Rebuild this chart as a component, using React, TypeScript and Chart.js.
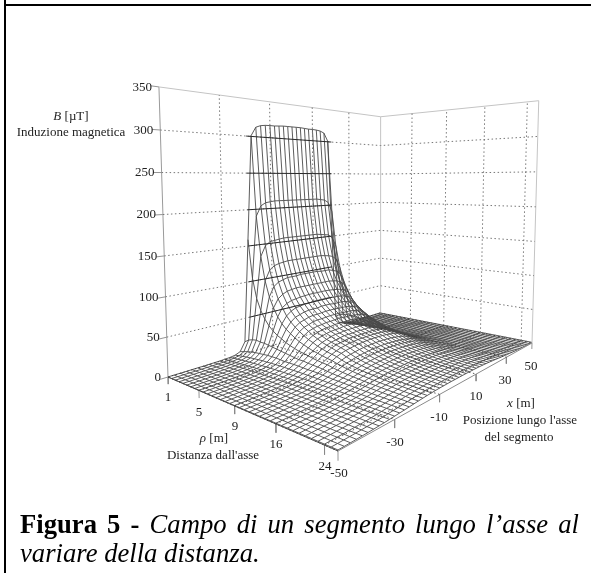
import React, { useEffect, useRef } from "react";
import { Chart, registerables } from "chart.js";

Chart.register(...registerables);

// Distance from the axis (rows of the mesh), metres
const rhoValues = [1, 1.5, 2, 2.5, 3, 3.5, 4, 4.5, 5, 5.5, 6, 6.5, 7, 7.5, 8, 8.5, 9, 9.5, 10, 11, 12, 13, 14, 15, 16, 17, 18, 19, 20, 21, 22, 23, 24, 25, 26];
// Position along the segment (the surface is mirror-symmetric around x = 0): 0, 2, ... 50
const xHalf = [0, 2, 4, 6, 8, 10, 12, 14, 16, 18, 20, 22, 24, 26, 28, 30, 32, 34, 36, 38, 40, 42, 44, 46, 48, 50];

const rho01 = [318, 318, 318, 317.5, 317, 317, 316.7, 315.7, 313, 301, 159, 17, 5, 2.2, 1.2, 0.8, 0.5, 0.4, 0.3, 0.2, 0.2, 0.2, 0.1, 0.1, 0.1, 0.1];
const rho02 = [211, 211, 211, 211, 211, 211, 210, 209, 205, 191, 106, 21, 6.7, 3.1, 1.7, 1.1, 0.8, 0.6, 0.4, 0.35, 0.3, 0.2, 0.2, 0.15, 0.1, 0.1];
const rho03 = [158, 158, 158, 158, 158, 157, 156, 155, 150, 136, 79, 23, 8.4, 4, 2.3, 1.5, 1.1, 0.8, 0.6, 0.4, 0.35, 0.3, 0.25, 0.2, 0.15, 0.1];
const rho04 = [126, 126, 126, 126, 126, 125, 124, 122, 117, 103, 63.5, 24, 9.6, 4.8, 2.8, 1.8, 1.3, 0.9, 0.7, 0.5, 0.4, 0.3, 0.3, 0.2, 0.2, 0.15];
const rho05 = [105, 105, 105, 104, 104, 104, 102, 100, 95, 82, 53, 23, 10.5, 5.5, 3.3, 2.1, 1.5, 1.1, 0.85, 0.65, 0.5, 0.4, 0.35, 0.3, 0.2, 0.2];
const rho06 = [89, 89, 89, 89, 89, 88, 87, 84, 79, 68, 45, 23, 11, 6, 3.7, 2.4, 1.7, 1.2, 0.95, 0.7, 0.6, 0.5, 0.4, 0.3, 0.25, 0.2];
const rho07 = [78, 78, 78, 77.5, 77, 76, 75, 72.5, 68, 57, 39.5, 22, 11.5, 6.5, 4, 2.7, 1.9, 1.4, 1.1, 0.85, 0.65, 0.5, 0.4, 0.35, 0.3, 0.25];
const rho08 = [69, 69, 69, 68, 68, 67, 66, 63, 58, 49, 35, 21, 12, 7, 4.3, 3, 2.1, 1.6, 1.2, 0.95, 0.7, 0.6, 0.5, 0.4, 0.35, 0.3];
const rho09 = [62, 62, 61, 61, 61, 60, 58, 56, 51, 43, 32, 20, 12, 7, 4.6, 3.2, 2.3, 1.7, 1.3, 1, 0.8, 0.65, 0.55, 0.45, 0.4, 0.3];
const rho10 = [56, 56, 55.5, 55, 55, 54, 52, 50, 45.5, 38.5, 28.6, 19, 12, 7.4, 4.9, 3.4, 2.4, 1.8, 1.4, 1.1, 0.9, 0.7, 0.6, 0.5, 0.4, 0.35];
const rho11 = [51, 51, 50.5, 50, 50, 49, 47, 45, 41, 34.5, 26, 18, 11.5, 7.5, 5, 3.6, 2.6, 1.9, 1.5, 1.2, 0.9, 0.8, 0.6, 0.5, 0.4, 0.35];
const rho12 = [47, 46.5, 46, 46, 45, 44.5, 43, 41, 37, 31, 24, 17, 11, 7.6, 5.2, 3.7, 2.7, 2.1, 1.6, 1.2, 1, 0.8, 0.7, 0.5, 0.45, 0.4];
const rho13 = [43, 43, 43, 42, 42, 41, 39, 37, 33.5, 28.5, 22, 16, 11, 7.6, 5.3, 3.9, 2.8, 2.2, 1.7, 1.3, 1, 0.85, 0.7, 0.6, 0.5, 0.4];
const rho14 = [40, 40, 39, 39, 38.5, 37.5, 36, 34, 31, 26, 21, 15, 11, 7.6, 5.4, 4, 2.9, 2.3, 1.8, 1.4, 1.1, 0.9, 0.75, 0.6, 0.5, 0.45];
const rho15 = [37, 37, 37, 36, 36, 35, 33, 31, 28, 24, 19.5, 15, 10.7, 7.6, 5.5, 4, 3.1, 2.4, 1.9, 1.5, 1.2, 1, 0.8, 0.65, 0.55, 0.5];
const rho16 = [34.4, 34, 34, 34, 33, 32, 31, 29, 26, 22.5, 18, 14, 10.4, 7.6, 5.6, 4.2, 3.1, 2.4, 1.9, 1.5, 1.2, 1, 0.85, 0.7, 0.6, 0.5];
const rho17 = [32, 32, 32, 32, 31, 30, 29, 27, 24, 21, 17, 13.5, 10, 7.5, 5.6, 4.2, 3.2, 2.5, 2, 1.6, 1.3, 1.1, 0.9, 0.75, 0.6, 0.55];
const rho18 = [30, 30, 30, 29.5, 29, 28, 27, 25, 22.6, 19.5, 16, 13, 10, 7.4, 5.6, 4.3, 3.3, 2.6, 2, 1.6, 1.35, 1.1, 0.95, 0.8, 0.65, 0.6];
const rho19 = [28.4, 28.2, 28, 27.6, 27, 26, 25, 23.5, 21.3, 18.4, 15.4, 12.4, 9.7, 7.3, 5.6, 4.2, 3.3, 2.5, 2.1, 1.7, 1.35, 1.1, 0.95, 0.8, 0.65, 0.6];
const rho20 = [25.3, 25.2, 24.9, 24.5, 24, 23, 22, 20.7, 18.8, 16.5, 13.9, 11.3, 9.1, 7.1, 5.6, 4.3, 3.4, 2.7, 2.2, 1.7, 1.45, 1.2, 1, 0.85, 0.7, 0.6];
const rho21 = [22.7, 22.6, 22.3, 21.9, 21.3, 20.6, 19.6, 18.3, 16.8, 14.9, 12.6, 10.5, 8.6, 6.9, 5.5, 4.3, 3.4, 2.8, 2.3, 1.8, 1.5, 1.25, 1.05, 0.9, 0.75, 0.65];
const rho22 = [20.5, 20.4, 20.1, 19.8, 19.3, 18.6, 17.7, 16.6, 15.2, 13.5, 11.7, 9.8, 8.1, 6.6, 5.4, 4.3, 3.5, 2.8, 2.3, 1.9, 1.55, 1.3, 1.1, 0.95, 0.8, 0.7];
const rho23 = [18.6, 18.5, 18.3, 18, 17.5, 16.9, 16.1, 15.1, 13.9, 12.5, 10.9, 9.3, 7.8, 6.4, 5.3, 4.3, 3.5, 2.9, 2.4, 2, 1.6, 1.4, 1.15, 1, 0.85, 0.75];
const rho24 = [17, 16.9, 16.7, 16.4, 16, 15.5, 14.8, 13.9, 12.8, 11.5, 10.2, 8.8, 7.5, 6.2, 5.2, 4.3, 3.5, 2.9, 2.4, 2, 1.7, 1.4, 1.2, 1.05, 0.9, 0.8];
const rho25 = [15.5, 15.4, 15.3, 15, 14.7, 14.2, 13.6, 12.8, 11.9, 10.8, 9.6, 8.3, 7.1, 6, 5, 4.2, 3.5, 2.9, 2.4, 2, 1.7, 1.45, 1.25, 1.1, 0.95, 0.8];
const rho26 = [14.3, 14.2, 14, 13.8, 13.5, 13.1, 12.6, 11.9, 11.1, 10.1, 9, 7.9, 6.8, 5.8, 4.9, 4.1, 3.5, 2.9, 2.4, 2.1, 1.75, 1.5, 1.3, 1.1, 0.95, 0.85];
const rho27 = [13.1, 13, 12.9, 12.7, 12.5, 12.1, 11.7, 11.1, 10.3, 9.5, 8.5, 7.5, 6.5, 5.6, 4.8, 4, 3.4, 2.9, 2.4, 2.1, 1.8, 1.5, 1.3, 1.15, 1, 0.85];
const rho28 = [12.1, 12, 11.9, 11.8, 11.6, 11.3, 10.9, 10.4, 9.7, 8.9, 8.1, 7.2, 6.3, 5.4, 4.7, 4, 3.4, 2.9, 2.4, 2.1, 1.8, 1.55, 1.35, 1.15, 1, 0.9];
const rho29 = [11.2, 11.2, 11.1, 11, 10.8, 10.5, 10.2, 9.7, 9.1, 8.4, 7.7, 6.9, 6, 5.3, 4.6, 3.9, 3.3, 2.8, 2.4, 2.1, 1.8, 1.55, 1.35, 1.2, 1.05, 0.9];
const rho30 = [10.5, 10.4, 10.3, 10.2, 10.1, 9.8, 9.5, 9.1, 8.6, 8, 7.3, 6.6, 5.8, 5.1, 4.4, 3.8, 3.3, 2.8, 2.4, 2.1, 1.8, 1.55, 1.35, 1.2, 1.05, 0.95];
const rho31 = [9.8, 9.8, 9.7, 9.6, 9.4, 9.2, 8.9, 8.6, 8.1, 7.6, 6.9, 6.3, 5.6, 4.9, 4.3, 3.7, 3.2, 2.8, 2.4, 2.1, 1.8, 1.55, 1.35, 1.2, 1.05, 0.95];
const rho32 = [9.2, 9.2, 9.1, 9, 8.9, 8.7, 8.4, 8.1, 7.7, 7.2, 6.6, 6, 5.4, 4.8, 4.2, 3.7, 3.2, 2.7, 2.4, 2, 1.8, 1.55, 1.35, 1.2, 1.05, 0.95];
const rho33 = [8.7, 8.6, 8.6, 8.5, 8.4, 8.2, 8, 7.7, 7.3, 6.8, 6.3, 5.8, 5.2, 4.6, 4.1, 3.6, 3.1, 2.7, 2.3, 2, 1.8, 1.55, 1.35, 1.2, 1.05, 0.95];
const rho34 = [8.2, 8.2, 8.1, 8, 7.9, 7.8, 7.6, 7.3, 6.9, 6.5, 6, 5.5, 5, 4.5, 4, 3.5, 3, 2.6, 2.3, 2, 1.75, 1.55, 1.35, 1.2, 1.05, 0.95];
const rho35 = [7.7, 7.7, 7.7, 7.6, 7.5, 7.4, 7.2, 6.9, 6.6, 6.2, 5.8, 5.3, 4.8, 4.3, 3.9, 3.4, 3, 2.6, 2.3, 2, 1.75, 1.55, 1.35, 1.2, 1.05, 0.95];

const surface = [rho01, rho02, rho03, rho04, rho05, rho06, rho07, rho08, rho09, rho10, rho11, rho12, rho13, rho14, rho15, rho16, rho17, rho18, rho19, rho20, rho21, rho22, rho23, rho24, rho25, rho26, rho27, rho28, rho29, rho30, rho31, rho32, rho33, rho34, rho35];

const bTicks = [0, 50, 100, 150, 200, 250, 300, 350];
const rhoTicks = [1, 5, 9, 16, 24];
const xTicks = [-50, -30, -10, 10, 30, 50];

// Camera of the 3D view: row index fraction u, position fraction v, height fraction w → screen
const CAM = { a: 76.54, b: 391.1, c: 168, d: -50.7, e: 83.5, f: 377, g: -0.2765, h: 0.4713, p: -16.2, q: -294, r: -0.045 };
const lastRow = rhoValues.length - 1;
function project(rowIndex: number, x: number, b: number) {
  const u = rowIndex / lastRow, v = (x + 50) / 100, w = b / 350;
  const den = CAM.g * u + CAM.h * v + CAM.r * w + 1;
  return {
    x: (CAM.a * u + CAM.b * v + CAM.c + CAM.p * w) / den,
    y: (CAM.d * u + CAM.e * v + CAM.f + CAM.q * w) / den,
  };
}

const xFull = [...xHalf.slice(1).reverse().map((x) => -x), ...xHalf];
const valueAt = (row: number, x: number) => surface[row][xHalf.indexOf(Math.abs(x))];

const line = (data: any[], color: string, width: number, dash: number[] = []) => ({
  data, borderColor: color, borderWidth: width, borderDash: dash, showLine: true, pointRadius: 0, tension: 0, fill: false,
});

function buildDatasets() {
  const rows = rhoValues.map((_, i) => i);
  const grid = "#777777", wall = "#c4c4c4", mesh = "#4a4a4a", dash = [1.5, 2.5];
  const out: any[] = [];
  const tickRows = rhoTicks.map((r) => rhoValues.indexOf(r));

  // wall gridlines seen through the mesh look solid and dark
  bTicks.slice(1, -1).forEach((b) => out.push(line([project(0, -20, b), project(0, 20, b)], "#2a2a2a", 1)));
  // floor gridlines
  tickRows.forEach((i) => out.push(line([project(i, -50, 0), project(i, 50, 0)], "#333", 0.8, dash)));
  xTicks.forEach((x) => out.push(line([project(0, x, 0), project(lastRow, x, 0)], "#333", 0.8, dash)));
  // wall gridlines
  bTicks.slice(1, -1).forEach((b) => {
    out.push(line([project(0, -50, b), project(0, 50, b), project(lastRow, 50, b)], grid, 1, dash));
  });
  xTicks.slice(1, -1).forEach((x) => out.push(line([project(0, x, 0), project(0, x, 350)], grid, 1, dash)));
  tickRows.slice(1).forEach((i) => out.push(line([project(i, 50, 0), project(i, 50, 350)], grid, 1, dash)));
  // wall frame
  out.push(line([project(0, -50, 350), project(0, 50, 350), project(lastRow, 50, 350), project(lastRow, 50, 0)], wall, 1));
  out.push(line([project(0, 50, 0), project(0, 50, 350)], wall, 1));
  out.push(line([project(0, -50, 0), project(0, -50, 350)], "#9a9a9a", 1));
  // floor front edges and tick marks
  out.push(line([project(0, -50, 0), project(lastRow, -50, 0)], "#555", 1));
  out.push(line([project(lastRow, -50, 0), project(lastRow, 50, 0)], "#8a8a8a", 1));
  bTicks.forEach((b) => out.push(line([project(0, -50, b), project(0, -52.5, b)], "#888", 0.9)));
  tickRows.forEach((i) => out.push(line([project(i, -50, 0), project(i, -50, -9)], "#888", 0.9)));
  xTicks.forEach((x) => out.push(line([project(lastRow, x, 0), project(lastRow, x, -9)], "#888", 0.9)));
  // surface: one polyline per row and per position
  rows.forEach((i) => out.push(line(xFull.map((x) => project(i, x, valueAt(i, x))), mesh, 0.9)));
  xFull.forEach((x) => out.push(line(rows.map((i) => project(i, x, valueAt(i, x))), mesh, 0.9)));
  return out;
}

const SERIF = '"Liberation Serif"';
type Run = { t: string; i?: boolean };
function mixed(ctx: CanvasRenderingContext2D, runs: Run[], cx: number, y: number, size: number) {
  const fontOf = (r: Run) => `${r.i ? "italic " : ""}${size}px ${SERIF}`;
  let total = 0;
  runs.forEach((r) => { ctx.font = fontOf(r); total += ctx.measureText(r.t).width; });
  let x = cx - total / 2;
  ctx.textAlign = "left";
  runs.forEach((r) => { ctx.font = fontOf(r); ctx.fillText(r.t, x, y); x += ctx.measureText(r.t).width; });
}

const labelsPlugin = {
  id: "labels3d",
  afterDraw(chart: any) {
    const ctx: CanvasRenderingContext2D = chart.ctx;
    ctx.save();
    ctx.fillStyle = "#222";
    ctx.textBaseline = "middle";
    const size = 13;
    ctx.font = `${size}px ${SERIF}`;
    ctx.textAlign = "right";
    bTicks.forEach((b) => {
      const p = project(0, -50, b);
      ctx.fillText(String(b), p.x - 7, p.y + 0.5);
    });
    ctx.textAlign = "center";
    const rhoLabelPos = [[168, 398], [199, 413], [235, 427], [276, 445], [325, 467]];
    rhoTicks.forEach((r, k) => ctx.fillText(String(r), rhoLabelPos[k][0], rhoLabelPos[k][1]));
    const xLabelPos = [[339, 474], [395, 443], [439, 418], [476, 397], [505, 381], [531, 367]];
    xTicks.forEach((x, k) => ctx.fillText(String(x), xLabelPos[k][0], xLabelPos[k][1]));
    mixed(ctx, [{ t: "B", i: true }, { t: " [µT]" }], 71, 117, size);
    mixed(ctx, [{ t: "Induzione magnetica" }], 71, 133, size);
    mixed(ctx, [{ t: "ρ", i: true }, { t: " [m]" }], 214, 439, size);
    mixed(ctx, [{ t: "Distanza dall'asse" }], 213, 456, size);
    mixed(ctx, [{ t: "x", i: true }, { t: " [m]" }], 521, 404, size);
    mixed(ctx, [{ t: "Posizione lungo l'asse" }], 520, 421, size);
    mixed(ctx, [{ t: "del segmento" }], 519, 438, size);
    ctx.restore();
  },
};

export default function App() {
  const ref = useRef<HTMLCanvasElement>(null);
  useEffect(() => {
    const chart = new Chart(ref.current as HTMLCanvasElement, {
      type: "scatter",
      data: { datasets: buildDatasets() },
      options: {
        animation: false,
        responsive: false,
        layout: { padding: 0 },
        plugins: { legend: { display: false }, tooltip: { enabled: false } },
        scales: {
          x: { type: "linear", min: 0, max: 591, display: false },
          y: { type: "linear", min: 0, max: 573, reverse: true, display: false },
        },
      },
      plugins: [labelsPlugin],
    } as any);
    return () => chart.destroy();
  }, []);
  const captionLine = { position: "absolute", left: 20, width: 559, fontFamily: SERIF, fontSize: 26.67, lineHeight: "29px", color: "#000", whiteSpace: "nowrap" } as const;
  return (
    <div style={{ position: "absolute", left: 0, top: 0, width: 591, height: 573, overflow: "hidden", background: "#fff" }}>
      <canvas ref={ref} width={591} height={573} style={{ position: "absolute", left: 0, top: 0, width: 591, height: 573, filter: "blur(0.35px)" }} />
      <div style={{ position: "absolute", left: 4, top: 0, width: 2, height: 573, background: "#000" }} />
      <div style={{ position: "absolute", left: 4, top: 4, width: 587, height: 2, background: "#000" }} />
      <div style={{ ...captionLine, top: 510, whiteSpace: "normal", textAlign: "justify", textAlignLast: "justify" }}>
        <b>Figura 5 - </b><i>Campo di un segmento lungo l’asse al</i>
      </div>
      <div style={{ ...captionLine, top: 539 }}>
        <i>variare della distanza.</i>
      </div>
    </div>
  );
}
